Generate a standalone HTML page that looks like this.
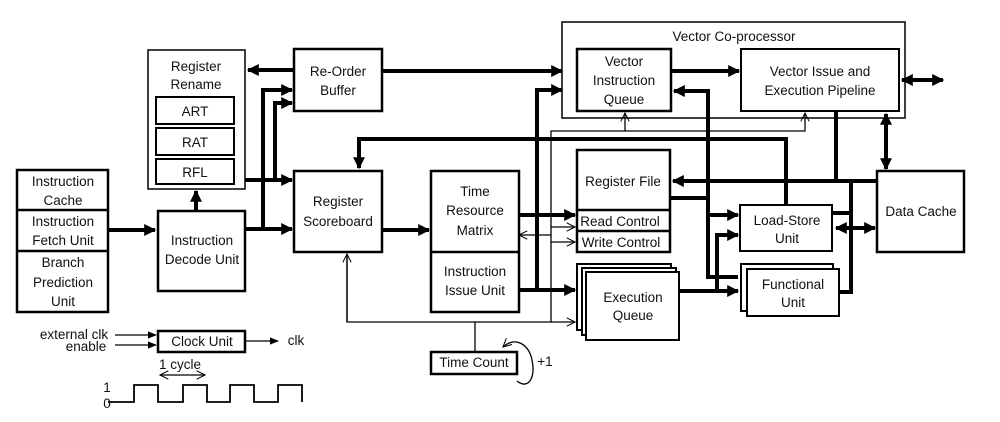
<!DOCTYPE html>
<html><head><meta charset="utf-8"><style>
html,body{margin:0;padding:0;background:#fff;}
svg text{font-family:"Liberation Sans",sans-serif;font-size:13.5px;fill:#111;text-anchor:middle;}
</style></head><body>
<svg width="1000" height="417" viewBox="0 0 1000 417" xmlns="http://www.w3.org/2000/svg">
<defs>
<marker id="a" viewBox="0 0 10 10" refX="9" refY="5" markerWidth="3" markerHeight="3" orient="auto-start-reverse"><path d="M0,0L10,5L0,10z" fill="#000"/></marker>
<marker id="t" viewBox="0 0 10 10" refX="9" refY="5" markerWidth="8" markerHeight="8" orient="auto-start-reverse"><path d="M1,1L9,5L1,9" fill="none" stroke="#000" stroke-width="1"/></marker>
<marker id="s" viewBox="0 0 10 10" refX="9" refY="5" markerWidth="7" markerHeight="7" orient="auto"><path d="M0,1L10,5L0,9z" fill="#000"/></marker>
</defs>
<g fill="#fff" stroke="#000" stroke-width="2.5">
<rect x="148" y="50" width="97" height="139" stroke-width="1.5"/>
<rect x="156" y="97" width="78" height="27" stroke-width="2"/>
<rect x="156" y="128" width="78" height="27" stroke-width="2"/>
<rect x="156" y="159" width="78" height="25" stroke-width="2"/>
<rect x="294" y="49" width="88" height="62"/>
<rect x="17" y="170" width="91" height="142"/>
<line x1="17" y1="210" x2="108" y2="210"/><line x1="17" y1="251" x2="108" y2="251"/>
<rect x="158" y="211" width="87" height="80"/>
<rect x="294" y="171" width="88" height="81"/>
<rect x="431" y="171" width="88" height="141"/>
<line x1="431" y1="252" x2="519" y2="252"/>
<rect x="158" y="331" width="87" height="21"/>
<rect x="431" y="352" width="86" height="22"/>
<rect x="562" y="22" width="343" height="96" stroke-width="1.5"/>
<rect x="577" y="49" width="94" height="62"/>
<rect x="741" y="49" width="158" height="62" stroke-width="2"/>
<rect x="577" y="150" width="93" height="102"/>
<line x1="577" y1="210" x2="670" y2="210"/><line x1="577" y1="231" x2="670" y2="231"/>
<rect x="577" y="264" width="94" height="66" stroke-width="2"/>
<rect x="582" y="268" width="94" height="67" stroke-width="2"/>
<rect x="586" y="272" width="93" height="68" stroke-width="2"/>
<rect x="740" y="205" width="92" height="46" stroke-width="2"/>
<rect x="741" y="264" width="92" height="47" stroke-width="2"/>
<rect x="747" y="269" width="92" height="47" stroke-width="2"/>
<rect x="877" y="171" width="87" height="81"/>
</g>
<g fill="none" stroke="#000" stroke-width="4">
<line x1="108" y1="230" x2="155" y2="230" marker-end="url(#a)"/>
<line x1="196" y1="211" x2="196" y2="191" marker-end="url(#a)"/>
<line x1="294" y1="70" x2="248" y2="70" marker-end="url(#a)"/>
<line x1="382" y1="71" x2="562" y2="71" marker-end="url(#a)"/>
<line x1="245" y1="180" x2="292" y2="180" marker-end="url(#a)"/>
<line x1="245" y1="229" x2="292" y2="229" marker-end="url(#a)"/>
<polyline points="263,229 263,90 292,90" marker-end="url(#a)"/>
<polyline points="275,180 275,103 292,103" marker-end="url(#a)"/>
<line x1="382" y1="230" x2="429" y2="230" marker-end="url(#a)"/>
<polyline points="786,205 786,139 359,139 359,168" marker-end="url(#a)"/>
<line x1="519" y1="215" x2="575" y2="215" marker-end="url(#a)"/>
<line x1="519" y1="290" x2="575" y2="290" marker-end="url(#a)"/>
<polyline points="537,290 537,90 562,90" marker-end="url(#a)"/>
<line x1="671" y1="71" x2="739" y2="71" marker-end="url(#a)"/>
<polyline points="738,277 708,277 708,91 674,91" marker-end="url(#a)"/>
<line x1="708" y1="215" x2="738" y2="215" marker-end="url(#a)"/>
<polyline points="670,198 708,198"/>
<line x1="877" y1="181" x2="673" y2="181" marker-end="url(#a)"/>
<line x1="836" y1="111" x2="836" y2="181"/>
<polyline points="832,213 851,213"/>
<polyline points="839,292 851,292 851,183"/>
<line x1="836" y1="228" x2="875" y2="228" marker-start="url(#a)" marker-end="url(#a)"/>
<line x1="886" y1="114" x2="886" y2="169" marker-start="url(#a)" marker-end="url(#a)"/>
<line x1="902" y1="80" x2="943" y2="80" marker-start="url(#a)" marker-end="url(#a)"/>
<line x1="679" y1="291" x2="738" y2="291" marker-end="url(#a)"/>
<polyline points="717,291 717,235 738,235" marker-end="url(#a)"/>
</g>
<g fill="none" stroke="#000" stroke-width="1.3">
<polyline points="347,254 347,322 551,322 551,131 805,131 805,113" marker-end="url(#t)"/>
<line x1="347" y1="322" x2="347" y2="254" marker-end="url(#t)"/>
<line x1="625" y1="131" x2="625" y2="113" marker-end="url(#t)"/>
<line x1="551" y1="322" x2="575" y2="322" marker-end="url(#t)"/>
<line x1="475" y1="322" x2="475" y2="352"/>
<line x1="551" y1="227" x2="575" y2="227" marker-end="url(#t)"/>
<line x1="551" y1="242" x2="575" y2="242" marker-end="url(#t)"/>
<line x1="551" y1="235" x2="519" y2="235" marker-end="url(#t)"/>
<path d="M517,381 C528,390 536,378 532,360 C529,344 515,336 503,347" marker-end="url(#t)"/>
<line x1="115" y1="335" x2="156" y2="335" marker-end="url(#s)"/>
<line x1="115" y1="345" x2="156" y2="345" marker-end="url(#s)"/>
<line x1="245" y1="341" x2="278" y2="341" marker-end="url(#s)"/>
<line x1="160" y1="375" x2="205" y2="375" marker-start="url(#t)" marker-end="url(#t)"/>
<polyline points="108,402 134,402 134,385 158,385 158,402 183,402 183,385 207,385 207,402 230,402 230,385 254,385 254,402 278,402 278,385 302,385 302,402" stroke-width="1.8"/>
</g>
<text x="196" y="71">Register</text><text x="196" y="89">Rename</text>
<text x="195" y="116">ART</text><text x="195" y="147">RAT</text><text x="195" y="177">RFL</text>
<text x="338" y="76">Re-Order</text><text x="338" y="95">Buffer</text>
<text x="63" y="186">Instruction</text><text x="63" y="205">Cache</text>
<text x="63" y="226">Instruction</text><text x="63" y="245">Fetch Unit</text>
<text x="63" y="267">Branch</text><text x="63" y="287">Prediction</text><text x="63" y="306">Unit</text>
<text x="202" y="245">Instruction</text><text x="202" y="264">Decode Unit</text>
<text x="338" y="206">Register</text><text x="338" y="226">Scoreboard</text>
<text x="475" y="196">Time</text><text x="475" y="215">Resource</text><text x="475" y="235">Matrix</text>
<text x="475" y="276">Instruction</text><text x="475" y="295">Issue Unit</text>
<text x="202" y="346">Clock Unit</text>
<text x="474" y="367">Time Count</text>
<text x="545" y="366">+1</text>
<text x="74" y="339">external clk</text><text x="86" y="351">enable</text>
<text x="296" y="345">clk</text>
<text x="180" y="369">1 cycle</text>
<text x="107" y="392">1</text><text x="107" y="408">0</text>
<text x="734" y="41">Vector Co-processor</text>
<text x="624" y="66">Vector</text><text x="624" y="85">Instruction</text><text x="624" y="104">Queue</text>
<text x="820" y="76">Vector Issue and</text><text x="820" y="95">Execution Pipeline</text>
<text x="623" y="186">Register File</text>
<text x="620" y="226">Read Control</text>
<text x="621" y="247">Write Control</text>
<text x="633" y="302">Execution</text><text x="633" y="320">Queue</text>
<text x="787" y="225">Load-Store</text><text x="787" y="243">Unit</text>
<text x="793" y="289">Functional</text><text x="793" y="307">Unit</text>
<text x="921" y="216">Data Cache</text>
</svg>
</body></html>
